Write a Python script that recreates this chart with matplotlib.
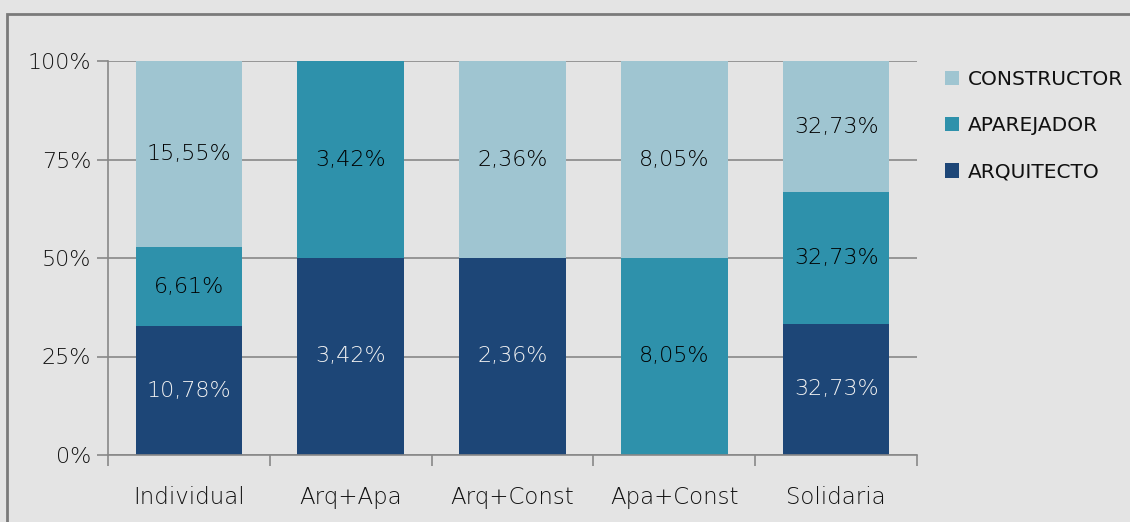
import numpy as np
import matplotlib.pyplot as plt
from matplotlib.patches import Rectangle
from matplotlib.ticker import FixedLocator

categories = ['Individual', 'Arq+Apa', 'Arq+Const', 'Apa+Const', 'Solidaria']
arquitecto = [10.78, 3.42, 2.36, 0.0, 32.73]
aparejador = [6.61, 3.42, 0.0, 8.05, 32.73]
constructor = [15.55, 0.0, 2.36, 8.05, 32.73]
y_ticks = [0, 25, 50, 75, 100]
y_labels = ['0%', '25%', '50%', '75%', '100%']

bg = '#e4e4e4'
colors = {'ARQUITECTO': '#1d4677', 'APAREJADOR': '#2e91ab', 'CONSTRUCTOR': '#9fc5d1'}
label_colors = {'ARQUITECTO': '#f2f2f2', 'APAREJADOR': '#000000', 'CONSTRUCTOR': '#000000'}

series = [('ARQUITECTO', arquitecto), ('APAREJADOR', aparejador), ('CONSTRUCTOR', constructor)]

totals = np.array(arquitecto) + np.array(aparejador) + np.array(constructor)

plt.rcParams['font.family'] = ['DejaVu Sans']
fig = plt.figure(figsize=(11.3, 5.22), dpi=100, facecolor=bg)
ax = fig.add_axes([108 / 1130, 67 / 522, 809 / 1130, 394 / 522], facecolor=bg)
ax.set_axisbelow(True)

x = np.arange(len(categories))
bottom = np.zeros(len(categories))
handles = {}
for name, vals in series:
    vals = np.array(vals)
    pct = vals / totals * 100
    bars = ax.bar(x, pct, width=0.66, bottom=bottom, color=colors[name], zorder=2, label=name)
    handles[name] = bars
    for xi, v, p, b in zip(x, vals, pct, bottom):
        if v > 0:
            ax.text(xi, b + p / 2, f'{v:.2f}%'.replace('.', ','), ha='center', va='center',
                    fontsize=16, fontweight='light', color=label_colors[name], zorder=3)
    bottom += pct

ax.set_xlim(-0.5, len(categories) - 0.5)
ax.set_ylim(0, 100)
ax.set_yticks(y_ticks)
ax.set_yticklabels(y_labels, fontsize=16, fontweight='light', color='#111111')
ax.set_xticks(x)
ax.set_xticklabels(categories, fontsize=16.5, fontweight='light', color='#111111')
ax.tick_params(axis='x', which='major', length=0, pad=22)
ax.xaxis.set_minor_locator(FixedLocator(np.arange(-0.5, len(categories), 1.0)))
ax.tick_params(axis='x', which='minor', length=8, color='#888888', width=1.2)
ax.tick_params(axis='y', length=8, color='#888888', width=1.2, pad=4)

ax.grid(axis='y', color='#888888', linewidth=1.2, zorder=1)
for s in ['top', 'right']:
    ax.spines[s].set_visible(False)
for s in ['left', 'bottom']:
    ax.spines[s].set_color('#888888')
    ax.spines[s].set_linewidth(1.2)

fig.legend([handles['CONSTRUCTOR'], handles['APAREJADOR'], handles['ARQUITECTO']],
           ['CONSTRUCTOR', 'APAREJADOR', 'ARQUITECTO'],
           loc='upper left', bbox_to_anchor=(927 / 1130, 1 - 52 / 522),
           frameon=False, fontsize=14.5, handlelength=0.7, handleheight=0.7,
           handletextpad=0.45, labelspacing=1.35, labelcolor='#111111')

# outer chart border
fig.patches.append(Rectangle((7 / 1130, -0.05), 1.2, 1 - 14 / 522 + 0.05, transform=fig.transFigure,
                             fill=False, edgecolor='#7a7a7a', linewidth=2))

fig.savefig('out.png', dpi=100, facecolor=bg)
